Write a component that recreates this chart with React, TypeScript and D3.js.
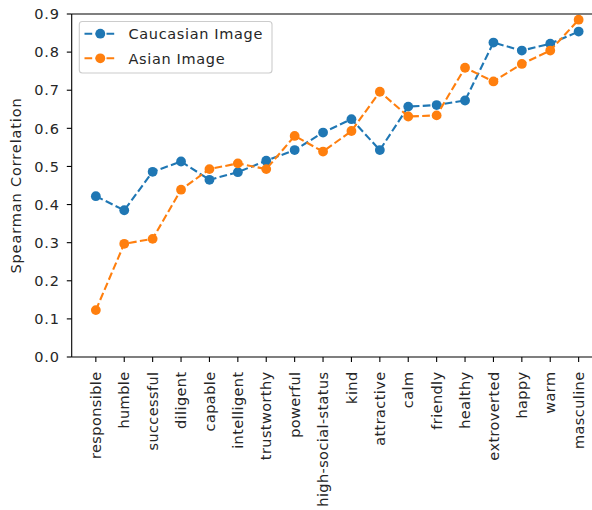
import React from "react";
import * as d3 from "d3";

const categories = [
  "responsible", "humble", "successful", "diligent", "capable", "intelligent",
  "trustworthy", "powerful", "high-social-status", "kind", "attractive", "calm",
  "friendly", "healthy", "extroverted", "happy", "warm", "masculine",
];

const caucasianValues = [
  0.422, 0.385, 0.486, 0.513, 0.465, 0.485, 0.515, 0.543, 0.589, 0.624,
  0.543, 0.657, 0.661, 0.673, 0.825, 0.804, 0.822, 0.854,
];

const asianValues = [
  0.123, 0.297, 0.31, 0.439, 0.493, 0.508, 0.493, 0.58, 0.539, 0.593,
  0.696, 0.631, 0.634, 0.759, 0.723, 0.769, 0.804, 0.885,
];

const yTicks = [0, 0.1, 0.2, 0.3, 0.4, 0.5, 0.6, 0.7, 0.8, 0.9];

const seriesList = [
  { name: "Caucasian Image", values: caucasianValues, color: "#1f77b4" },
  { name: "Asian Image", values: asianValues, color: "#ff7f0e" },
];

const W = 592;
const H = 510;
const left = 71.7;
const top = 14;
const bottom = 357;
const unit = 28.4;
const right = left + unit * (categories.length - 1 + 1.7);

const FONT = "'DejaVu Sans', sans-serif";
const FS = 14.5;
const TEXT = "#262626";

export default function App() {
  const x = d3.scaleLinear().domain([-0.85, categories.length - 1 + 0.85]).range([left, right]);
  const y = d3.scaleLinear().domain([0, 0.9]).range([bottom, top]);

  const line = d3
    .line<number>()
    .x((_, i) => x(i))
    .y((d) => y(d));

  return (
    <svg
      width={W}
      height={H}
      style={{ position: "absolute", left: 0, top: 0, background: "#fff" }}
      fontFamily={FONT}
    >
      {/* data series */}
      {seriesList.map((s) => (
        <g key={s.name}>
          <path
            d={line(s.values) || ""}
            fill="none"
            stroke={s.color}
            strokeWidth={2.1}
            strokeDasharray="7.7 3.3"
          />
          {s.values.map((v, i) => (
            <circle key={i} cx={x(i)} cy={y(v)} r={4.9} fill={s.color} />
          ))}
        </g>
      ))}

      {/* spines */}
      <line x1={left} x2={left} y1={top} y2={bottom} stroke="#000" strokeWidth={1.1} />
      <line x1={left} x2={right} y1={bottom} y2={bottom} stroke="#000" strokeWidth={1.1} />
      <line x1={left} x2={right} y1={top} y2={top} stroke="#000" strokeWidth={1.1} />
      <line x1={right} x2={right} y1={top} y2={bottom} stroke="#000" strokeWidth={1.1} />

      {/* y axis */}
      {yTicks.map((t) => (
        <g key={t}>
          <line x1={left - 4.9} x2={left} y1={y(t)} y2={y(t)} stroke="#000" strokeWidth={1.1} />
          <text
            x={60}
            y={y(t)}
            dy="0.36em"
            textAnchor="end"
            fontSize={FS}
            letterSpacing={0.9}
            fill={TEXT}
          >
            {t.toFixed(1)}
          </text>
        </g>
      ))}
      <text
        transform={`translate(${20.5},${(top + bottom) / 2}) rotate(-90)`}
        textAnchor="middle"
        fontSize={FS}
        letterSpacing={0.87}
        fill={TEXT}
      >
        Spearman Correlation
      </text>

      {/* x axis */}
      {categories.map((c, i) => (
        <g key={c}>
          <line x1={x(i)} x2={x(i)} y1={bottom} y2={bottom + 4.9} stroke="#000" strokeWidth={1.1} />
          <text
            transform={`translate(${x(i)},${bottom + 14.5}) rotate(-90)`}
            textAnchor="end"
            dy="0.36em"
            fontSize={FS}
            letterSpacing={0.4}
            fill={TEXT}
          >
            {c}
          </text>
        </g>
      ))}

      {/* legend */}
      <rect
        x={79.3}
        y={21.5}
        width={192.7}
        height={51.5}
        rx={3}
        fill="#fff"
        fillOpacity={0.8}
        stroke="#cccccc"
        strokeWidth={1.1}
      />
      {seriesList.map((s, i) => {
        const ly = 33.7 + i * 24.6;
        return (
          <g key={s.name}>
            <line
              x1={84.5}
              x2={116}
              y1={ly}
              y2={ly}
              stroke={s.color}
              strokeWidth={2.1}
              strokeDasharray="7.7 3.3"
            />
            <circle cx={100.3} cy={ly} r={4.9} fill={s.color} />
            <text x={128.5} y={ly} dy="0.36em" fontSize={FS} letterSpacing={0.65} fill={TEXT}>
              {s.name}
            </text>
          </g>
        );
      })}
    </svg>
  );
}
